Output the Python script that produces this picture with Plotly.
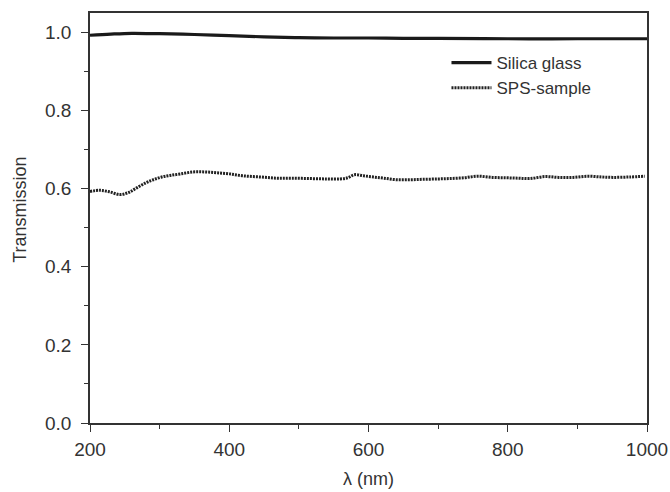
import plotly.graph_objects as go

# Silica glass transmission
silica_wl = [200, 230, 260, 300, 350, 400, 450, 500, 550, 600, 650, 700, 800, 900, 1000]
silica_t = [0.993, 0.996, 0.998, 0.997, 0.995, 0.992, 0.989, 0.987, 0.986, 0.986, 0.985, 0.985, 0.984, 0.984, 0.984]

# SPS-sample transmission
sps_wl = [200, 214, 228, 243, 255, 267, 280, 291, 303, 315, 330, 348, 365, 382, 400, 420, 445, 468, 490, 516,
          540, 559, 570, 580, 593, 607, 622, 640, 660, 678, 700, 717, 737, 757, 778, 798, 815, 832, 853,
          873, 894, 915, 935, 951, 975, 997]
sps_t = [0.593, 0.596, 0.592, 0.585, 0.590, 0.602, 0.615, 0.623, 0.630, 0.634, 0.638, 0.643, 0.643, 0.641, 0.638,
         0.633, 0.630, 0.627, 0.627, 0.626, 0.625, 0.625, 0.628, 0.636, 0.633, 0.630, 0.627, 0.623, 0.623, 0.624,
         0.625, 0.626, 0.628, 0.632, 0.629, 0.628, 0.627, 0.626, 0.631, 0.629, 0.629, 0.632, 0.630, 0.629, 0.630, 0.632]

x_ticks = [200, 400, 600, 800, 1000]
y_ticks = [0.0, 0.2, 0.4, 0.6, 0.8, 1.0]
y_tick_labels = ["0.0", "0.2", "0.4", "0.6", "0.8", "1.0"]

FONT = "Liberation Sans, Arial, sans-serif"
INK = "#333333"

fig = go.Figure()
fig.add_trace(go.Scatter(x=silica_wl, y=silica_t, mode="lines", name="Silica glass",
                         line=dict(color="#1a1a1a", width=3.2, shape="spline")))
fig.add_trace(go.Scatter(x=sps_wl, y=sps_t, mode="lines", name="SPS-sample",
                         line=dict(color="#222222", width=3, dash="2px,1px", shape="spline")))

axis_common = dict(showline=True, linecolor=INK, linewidth=1.5, mirror=True,
                   ticks="outside", ticklen=7, tickwidth=1.2, tickcolor=INK,
                   showgrid=False, zeroline=False, automargin=False,
                   tickfont=dict(family=FONT, size=19, color=INK))

fig.update_xaxes(range=[200, 1000], tickvals=x_ticks, ticklabelstandoff=1,
                 minor=dict(ticks="outside", ticklen=4, tickwidth=1.2, tickcolor=INK, dtick=100),
                 **axis_common)
fig.update_yaxes(range=[0, 1.05], tickvals=y_ticks, ticktext=y_tick_labels, ticklabelstandoff=6,
                 minor=dict(ticks="outside", ticklen=4, tickwidth=1.2, tickcolor=INK,
                            tickvals=[0.1, 0.3, 0.5, 0.7, 0.9]),
                 **axis_common)

fig.add_annotation(text="λ (nm)", xref="paper", yref="paper", x=0.5, y=-0.136,
                   xanchor="center", yanchor="middle", showarrow=False,
                   font=dict(family=FONT, size=18, color=INK))
fig.add_annotation(text="Transmission", xref="paper", yref="paper", x=-0.1257, y=0.52,
                   xanchor="center", yanchor="middle", showarrow=False, textangle=-90,
                   font=dict(family=FONT, size=18, color=INK))

fig.update_layout(
    width=670, height=492,
    margin=dict(l=90, r=23, t=13, b=69),
    paper_bgcolor="white", plot_bgcolor="white",
    showlegend=True,
    legend=dict(x=0.64, y=0.922, xanchor="left", yanchor="top", bgcolor="rgba(0,0,0,0)",
                font=dict(family=FONT, size=17, color=INK),
                itemwidth=40, tracegroupgap=2),
)

fig.write_html("out.html", config={"displayModeBar": False},
               post_script="document.body.style.margin='0';document.body.style.overflow='hidden';")
